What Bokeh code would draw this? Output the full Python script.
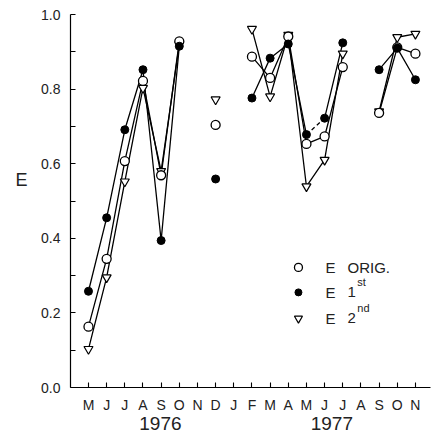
import math
from bokeh.plotting import figure
from bokeh.models import FixedTicker, Range1d, LinearAxis
from bokeh.core.properties import value
from bokeh.embed import file_html
from bokeh.resources import INLINE

nan = float("nan")

months = ["M", "J", "J", "A", "S", "O", "N", "D", "J", "F", "M", "A", "M", "J", "J", "A", "S", "O", "N"]
years = ["1976", "1977"]
year_pos = [3.96, 13.4]

e_orig = [0.163, 0.345, 0.607, 0.822, 0.569, 0.928, nan, 0.704, nan, 0.887, 0.830, 0.941,
          0.653, 0.673, 0.859, nan, 0.736, 0.912, 0.895]
e_first = [0.258, 0.455, 0.691, 0.852, 0.394, 0.915, nan, 0.559, nan, 0.776, 0.883, 0.921,
           0.678, 0.722, 0.924, nan, 0.852, 0.910, 0.825]
e_second = [0.103, 0.295, 0.552, 0.803, 0.580, 0.920, nan, 0.772, nan, 0.961, 0.780, 0.945,
            0.539, 0.610, 0.895, nan, 0.740, 0.939, 0.948]

xs = list(range(len(months)))
FONT = "Liberation Sans"
TXT = "#222"

p = figure(width=436, height=436, output_backend="svg", toolbar_location=None,
           x_range=Range1d(-0.99, 18.83), y_range=Range1d(0, 1.0),
           x_axis_location=None, y_axis_location=None,
           min_border_left=70, min_border_right=6, min_border_top=14, min_border_bottom=49)
p.outline_line_color = None
p.xgrid.grid_line_color = None
p.ygrid.grid_line_color = None

# lines
p.line(xs, e_orig, line_color="black", line_width=1.3)
p.line(xs, e_second, line_color="black", line_width=1.3)
# filled series: solid except May->Jun 1977 which is dashed
brk = 13
first_x = xs[:brk] + [nan] + xs[brk:]
first_y = e_first[:brk] + [nan] + e_first[brk:]
p.line(first_x, first_y, line_color="black", line_width=1.3)
p.line(xs[brk - 1:brk + 1], e_first[brk - 1:brk + 1], line_color="black", line_width=1.3, line_dash="4 3")

# markers
p.scatter(xs, e_second, marker="inverted_triangle", size=9, fill_color="white", line_color="black", line_width=1.2)
p.scatter(xs, e_orig, marker="circle", size=9, fill_color="white", line_color="black", line_width=1.3)
p.scatter(xs, e_first, marker="circle", size=8, fill_color="black", line_color="black")

# legend (manual)
leg_x = 11.56
leg_y = [0.322, 0.255, 0.185]
p.scatter([leg_x], [leg_y[0]], marker="circle", size=8, fill_color="white", line_color="black", line_width=1.3)
p.scatter([leg_x], [leg_y[1]], marker="circle", size=7, fill_color="black", line_color="black")
p.scatter([leg_x], [leg_y[2]], marker="inverted_triangle", size=8, fill_color="white", line_color="black", line_width=1.2)
p.text([13.05] * 3, leg_y, text=["E", "E", "E"], text_font=value(FONT), text_font_size="15px",
       text_baseline="middle", text_align="left", text_color=TXT)
p.text([14.26] * 3, leg_y, text=["ORIG.", "1", "2"], text_font=value(FONT), text_font_size="15px",
       text_baseline="middle", text_align="left", text_color=TXT)
p.text([14.8, 14.8], [leg_y[1] + 0.027, leg_y[2] + 0.027], text=["st", "nd"], text_font=value(FONT),
       text_font_size="11px", text_baseline="middle", text_align="left", text_color=TXT)

# month axis
xax = LinearAxis(ticker=FixedTicker(ticks=xs),
                 major_label_overrides={i: m for i, m in zip(xs, months)})
# year axis
yrax = LinearAxis(ticker=FixedTicker(ticks=year_pos),
                  major_label_overrides={xp: yr for xp, yr in zip(year_pos, years)})
# y axis
yt = [0.0, 0.2, 0.4, 0.6, 0.8, 1.0]
yax = LinearAxis(ticker=FixedTicker(ticks=yt, minor_ticks=[0.1, 0.3, 0.5, 0.7, 0.9]),
                 major_label_overrides={t: f"{t:.1f}" for t in yt})
# "E" label axis
eax = LinearAxis(ticker=FixedTicker(ticks=[0.556]), major_label_overrides={0.556: "E"})

for ax in (xax, yax):
    ax.axis_line_width = 1.2
    ax.axis_line_color = "black"
    ax.major_tick_in = 5
    ax.major_tick_out = 0
    ax.major_tick_line_color = "black"
    ax.major_tick_line_width = 1.1
    ax.major_label_text_font = FONT
    ax.major_label_text_font_size = "14px"
    ax.major_label_text_color = TXT

xax.major_label_standoff = 9
xax.minor_tick_line_color = None
yax.minor_tick_in = 5
yax.minor_tick_out = 0
yax.minor_tick_line_color = "black"
yax.major_label_standoff = 10

for ax, fs, so in ((yrax, "19px", 1), (eax, "18px", 11)):
    ax.axis_line_color = None
    ax.major_tick_line_color = None
    ax.minor_tick_line_color = None
    ax.major_tick_in = 0
    ax.major_tick_out = 0
    ax.major_label_text_font = FONT
    ax.major_label_text_font_size = fs
    ax.major_label_text_color = TXT
    ax.major_label_standoff = so

p.add_layout(xax, "below")
p.add_layout(yrax, "below")
p.add_layout(yax, "left")
p.add_layout(eax, "left")

open("out.html", "w").write(file_html(p, INLINE))
